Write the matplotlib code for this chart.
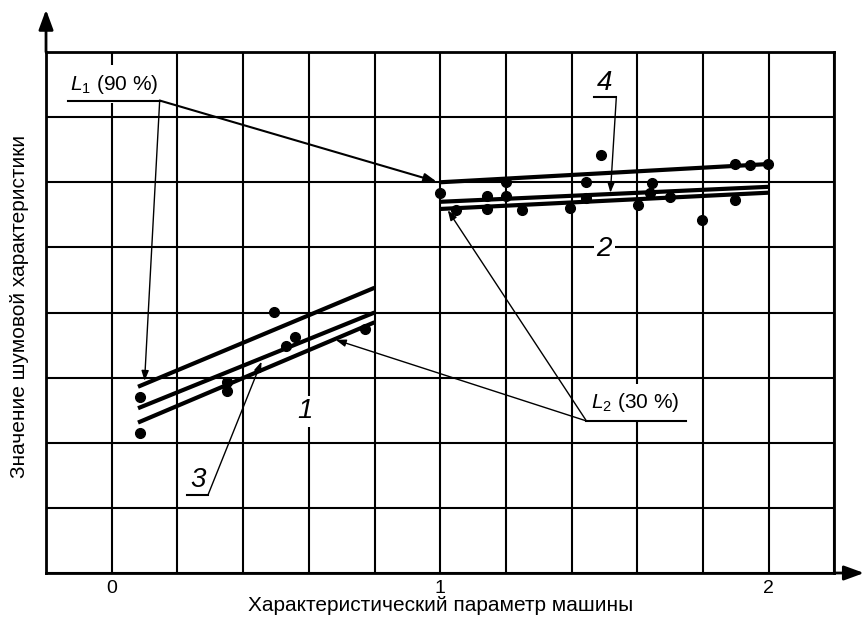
import numpy as np
import matplotlib
matplotlib.use('Agg')
import matplotlib.pyplot as plt

plt.rcParams['font.family'] = ['Liberation Sans', 'DejaVu Sans']
plt.rcParams['mathtext.fontset'] = 'custom'
plt.rcParams['mathtext.rm'] = 'Liberation Sans'
plt.rcParams['mathtext.it'] = 'Liberation Sans:italic'

# family 1 (left group) - measured points
x1 = [0.085, 0.085, 0.35, 0.35, 0.493, 0.532, 0.559, 0.77]
y1 = [2.71, 2.15, 2.94, 2.80, 4.01, 3.48, 3.62, 3.75]
# family 2 (right group)
x2 = [1.0, 1.047, 1.143, 1.143, 1.199, 1.2, 1.25, 1.396, 1.445, 1.445,
      1.49, 1.602, 1.638, 1.645, 1.699, 1.798, 1.897, 1.897, 1.942, 1.998]
y2 = [5.83, 5.57, 5.79, 5.59, 5.79, 6.01, 5.58, 5.60, 6.00, 5.76,
      6.42, 5.65, 5.83, 5.99, 5.77, 5.42, 5.73, 6.28, 6.27, 6.28]

# fitted lines: L1 (90 %), regression, L2 (30 %)
fit1_x = [0.08, 0.8]
fit1_L1 = [2.86, 4.38]
fit1_reg = [2.53, 4.00]
fit1_L2 = [2.31, 3.85]
fit2_x = [1.0, 2.0]
fit2_L1 = [6.00, 6.28]
fit2_reg = [5.70, 5.93]
fit2_L2 = [5.59, 5.84]

xtick_major = [0, 1, 2]
xtick_labels = ['0', '1', '2']
xtick_minor = np.arange(-0.2, 2.21, 0.2)
ytick_grid = np.arange(0, 9, 1)

xlabel = 'Характеристический параметр машины'
ylabel = 'Значение шумовой характеристики'

fig = plt.figure(figsize=(8.65, 6.17), dpi=100)
ax = fig.add_axes([0.0532, 0.0713, 0.9115, 0.8444])
ax.set_xlim(-0.2, 2.2)
ax.set_ylim(0, 8)

ax.set_xticks(xtick_major)
ax.set_xticklabels(xtick_labels, fontsize=14)
ax.set_xticks(xtick_minor, minor=True)
ax.set_yticks(ytick_grid)
ax.set_yticklabels([])
ax.tick_params(which='both', length=0, pad=5)
ax.grid(which='both', color='k', lw=1.5)
ax.set_axisbelow(True)
for s in ax.spines.values():
    s.set_linewidth(2)

ax.set_xlabel(xlabel, fontsize=15, labelpad=-1)
ax.set_ylabel(ylabel, fontsize=15)
ax.yaxis.set_label_coords(-0.022, 0.512)

# axis arrows
ax.annotate('', xy=(-0.2, 8.65), xytext=(-0.2, 8), annotation_clip=False,
            arrowprops=dict(arrowstyle='-|>,head_length=0.6,head_width=0.22', lw=2,
                            color='k', mutation_scale=20, shrinkA=0, shrinkB=0))
ax.annotate('', xy=(2.29, 0), xytext=(2.2, 0), annotation_clip=False,
            arrowprops=dict(arrowstyle='-|>,head_length=0.6,head_width=0.22', lw=2,
                            color='k', mutation_scale=20, shrinkA=0, shrinkB=0))

# lines
for xs, ys in [(fit1_x, fit1_L1), (fit1_x, fit1_reg), (fit1_x, fit1_L2),
               (fit2_x, fit2_L1), (fit2_x, fit2_reg), (fit2_x, fit2_L2)]:
    ax.plot(xs, ys, color='k', lw=3, solid_capstyle='butt', zorder=3)

ax.plot(x1, y1, 'o', color='k', ms=7, zorder=4)
ax.plot(x2, y2, 'o', color='k', ms=7, zorder=4)

white = dict(facecolor='white', edgecolor='none', pad=2)

def leader(start, tip, lw=1.0, ms=12):
    ax.annotate('', xy=tip, xytext=start,
                arrowprops=dict(arrowstyle='-|>,head_length=0.5,head_width=0.18', lw=lw,
                                color='k', mutation_scale=ms, shrinkA=0, shrinkB=0),
                zorder=5)

# L1 label
ax.text(-0.128, 7.42, r'$L_1$ (90 %)', fontsize=15, ha='left', va='baseline',
        bbox=dict(facecolor='white', edgecolor='none', boxstyle='square,pad=0.35'), zorder=5)
ax.plot([-0.134, 0.146], [7.255, 7.255], color='k', lw=1.5, zorder=5)
leader((0.146, 7.255), (0.989, 6.01), lw=1.5, ms=15)
leader((0.146, 7.255), (0.10, 2.95), lw=1.0)

# L2 label
ax.text(1.46, 2.53, r'$L_2$ (30 %)', fontsize=15, ha='left', va='baseline',
        bbox=dict(facecolor='white', edgecolor='none', boxstyle='square,pad=0.35'), zorder=5)
ax.plot([1.445, 1.747], [2.335, 2.335], color='k', lw=1.5, zorder=5)
leader((1.445, 2.335), (1.023, 5.57))
leader((1.445, 2.335), (0.682, 3.58))

# number labels
ax.text(0.262, 1.43, '3', fontsize=20, style='italic', ha='center', va='center', zorder=5)
ax.plot([0.229, 0.293], [1.198, 1.198], color='k', lw=1.5, zorder=5)
leader((0.293, 1.198), (0.456, 3.246))

ax.text(1.501, 7.53, '4', fontsize=20, style='italic', ha='center', va='center', zorder=5)
ax.plot([1.467, 1.536], [7.307, 7.307], color='k', lw=1.5, zorder=5)
leader((1.536, 7.307), (1.518, 5.84))

ax.text(0.588, 2.48, '1', fontsize=20, style='italic', ha='center', va='center',
        bbox=white, zorder=5)
ax.text(1.499, 4.97, '2', fontsize=20, style='italic', ha='center', va='center',
        bbox=white, zorder=5)

fig.savefig('out.png', dpi=100)
